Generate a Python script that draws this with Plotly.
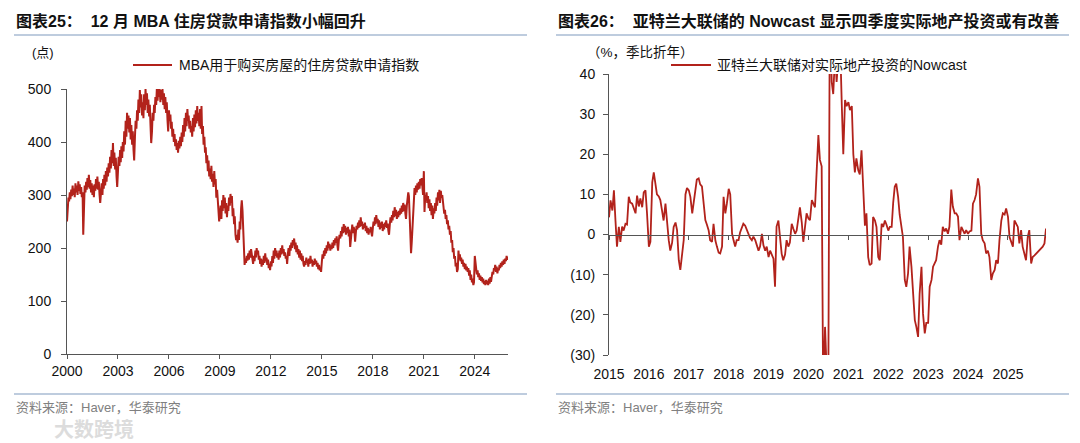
import pandas as pd
import plotly.graph_objects as go

# the page body has an 8px margin, so the figure is sized to the remaining window
OFF = 8
W, H = 1080 - OFF, 443 - OFF


def px(x):
    return (x - OFF) / W


def py(y):
    return 1 - (y - OFF) / H


# ---------------- data ----------------
# MBA purchase index, semi-monthly readings (24 per year), 2000 .. 2025
mba_values = [
    250, 272, 295, 288, 305, 292, 310, 298, 318, 300, 312, 296, 322, 305, 318, 300, 326, 308, 320, 302, 315, 296, 305, 225,  # 2000
    300, 318, 305, 325, 310, 332, 315, 338, 312, 328, 305, 322, 300, 318, 296, 320, 308, 330, 312, 335, 310, 325, 300, 285,  # 2001
    305, 322, 300, 330, 312, 338, 318, 345, 325, 352, 335, 360, 342, 372, 350, 385, 360, 398, 355, 380, 348, 370, 335, 315,  # 2002
    345, 372, 355, 385, 362, 392, 370, 400, 382, 420, 395, 440, 410, 455, 425, 450, 418, 445, 405, 432, 395, 420, 385, 365,  # 2003
    410, 440, 425, 460, 440, 480, 455, 498, 465, 490, 450, 475, 445, 490, 460, 500, 470, 492, 455, 480, 448, 470, 430, 398,  # 2004
    420, 455, 440, 470, 455, 485, 470, 500, 478, 500, 485, 500, 475, 498, 480, 500, 470, 492, 462, 485, 455, 475, 440, 420,  # 2005
    460, 440, 452, 425, 438, 410, 425, 400, 415, 392, 405, 385, 398, 380, 402, 388, 410, 392, 418, 400, 432, 410, 445, 420,  # 2006
    455, 430, 462, 440, 450, 425, 440, 418, 430, 410, 445, 420, 452, 428, 460, 435, 468, 440, 455, 430, 462, 425, 468, 415,  # 2007
    430, 395, 410, 380, 390, 360, 375, 345, 365, 335, 350, 330, 355, 325, 340, 315, 345, 320, 330, 295, 310, 280, 270, 250,  # 2008
    265, 280, 255, 290, 270, 300, 275, 295, 265, 285, 258, 280, 270, 295, 280, 302, 285, 298, 260, 275, 245, 260, 225, 215,  # 2009
    225, 210, 235, 215, 250, 235, 275, 290, 270, 230, 175, 168, 180, 172, 185, 176, 190, 178, 195, 182, 198, 185, 180, 170,  # 2010
    185, 175, 195, 182, 200, 188, 195, 178, 185, 170, 180, 165, 178, 168, 185, 172, 190, 175, 182, 168, 178, 162, 170, 158,  # 2011
    175, 165, 185, 172, 195, 180, 200, 185, 195, 182, 190, 178, 195, 182, 200, 188, 205, 190, 198, 185, 192, 180, 185, 170,  # 2012
    190, 200, 185, 205, 195, 210, 200, 215, 205, 218, 198, 210, 192, 205, 188, 198, 182, 195, 178, 190, 175, 185, 170, 165,  # 2013
    175, 168, 182, 172, 178, 165, 180, 170, 185, 172, 178, 165, 175, 168, 180, 170, 176, 165, 172, 160, 168, 158, 162, 155,  # 2014
    175, 188, 180, 195, 185, 200, 190, 205, 195, 212, 200, 208, 195, 205, 198, 210, 200, 215, 205, 218, 210, 222, 205, 195,  # 2015
    215, 225, 218, 232, 222, 240, 228, 245, 230, 242, 225, 238, 228, 240, 222, 235, 202, 222, 232, 244, 228, 240, 232, 212,  # 2016
    230, 242, 235, 248, 238, 252, 240, 258, 242, 250, 235, 245, 238, 248, 232, 242, 228, 238, 225, 235, 230, 240, 228, 222,  # 2017
    238, 250, 242, 258, 245, 262, 248, 255, 240, 252, 235, 248, 238, 250, 232, 245, 235, 248, 240, 252, 238, 246, 232, 225,  # 2018
    245, 258, 248, 262, 252, 270, 258, 277, 260, 272, 255, 268, 258, 270, 262, 275, 265, 280, 268, 285, 270, 282, 265, 255,  # 2019
    280, 292, 305, 298, 255, 215, 190, 210, 240, 268, 295, 313, 300, 318, 305, 322, 310, 325, 312, 330, 318, 332, 315, 300,  # 2020
    345, 268, 300, 290, 305, 285, 298, 275, 292, 270, 285, 262, 280, 255, 275, 265, 285, 270, 295, 280, 305, 290, 310, 285,  # 2021
    308, 295, 300, 285, 280, 265, 272, 255, 262, 245, 252, 235, 242, 225, 232, 210, 215, 192, 200, 180, 185, 165, 172, 155,  # 2022
    160, 195, 178, 188, 175, 182, 170, 178, 165, 172, 160, 170, 158, 165, 155, 162, 148, 158, 140, 150, 135, 142, 130, 135,  # 2023
    185, 165, 160, 150, 158, 145, 152, 140, 148, 138, 145, 135, 142, 132, 138, 130, 140, 132, 138, 130, 142, 133, 145, 136,  # 2024
    145, 155, 150, 162, 158, 168, 155, 165, 152, 160, 158, 168, 162, 172, 165, 175, 168, 178, 170, 180, 175, 185, 178, 183,  # 2025
]

# Atlanta Fed nowcast of real residential investment (% q/q saar), semi-monthly, 2015 .. 2025
nowcast_values = [
    4.3, 8.5, 6, 11, 3.6, -3, 1.9, -1.8, 2, 1, 2.7, 2.5, 9.4, 8, 7.7, 6.5, 5.3, 9.7, 7, 9, 6.8, 10.5, 11, 5.3,  # 2015
    -3, -1.8, 13, 15.5, 12.7, 10, 9.5, 8.6, 5.9, 3.5, 7.7, 2.7, -1.4, -4, -2, 1.9, 3, 1.1, -6.4, -8.8, -4.7, -1.4, 10, 11.6,  # 2016
    11, 9.4, 5.3, 8, 10, 13.7, 14, 12.5, 12, 8.6, 3.6, 2.5, 1.1, -1.4, -1.8, 2.7, -1.5, -3, -4.5, -4.7, -3, 9.4, 5.3, 7.7,  # 2017
    11.4, 10, 0.2, -1.5, -3, -1.4, -1.4, 0.5, 1.9, 2.7, 2.2, 1.1, 0, -0.8, -1.4, -0.5, -1.4, -2.5, -4, -3, 0.2, -2.7, -4, -3,  # 2018
    -5.6, -4, -5, -6, -13, 2, 3.5, -1, -4.8, -6.4, -5, -1.4, -3, -2, 2.7, 1.5, 0.2, 1, 4.5, 6.8, 3, -1.8, 2, 5.3,  # 2019
    4, 3.6, 8.6, 7.5, 6.8, 15, 24.8, 18.6, 17, -40, -23, -33, -38, 60, 38, 35, 45, 38, 45, 50, 32.6, 20, 33.5, 32,  # 2020
    33, 31, 32, 20, 15.5, 19, 16, 15, 21, 10.6, 2.2, 5.3, -5.6, -7.6, -7.2, 4.4, 3.5, 1.9, -5.6, -6.4, 2.7, 1.9, 3.5, 2.5,  # 2021
    1, 1.9, 1.9, 8, 11.9, 12.7, 9.4, 5, 1.9, -0.6, -11.3, -13, -9.7, -3, -8, -13, -21.3, -23, -25.5, -14.7, -8, -19.7, -24.6, -22,  # 2022
    -22, -13, -11.3, -8, -7, -6.4, -3, -1.4, -2.5, 1.9, 0.8, 1.5, 0.2, 2, 11.2, 7, 5.3, 5.3, 4.5, -1.4, 1.9, 1.1, 0.2, 1.1,  # 2023
    0.2, 0.8, 1, 7.7, 8.6, 10, 14, 11.9, 0.2, -1.4, -2.2, -4.7, -4, -5.6, -11.3, -9.7, -8.8, -6.4, -7.2, -1.4, 3.5, 5.3, 5, 6.5,  # 2024
    4.4, -0.6, -2, -3, 3.5, 2.7, 1.9, -2.2, 1.1, -3, -5, -6.4, -0.6, 1.1, -7.2, -5.6, -5.2, -4.8, -4.5, -4, -3.5, -3, -2.2, 1.5,  # 2025
]

mba_dates = pd.date_range("2000-01-01", periods=len(mba_values), freq="SMS")
nowcast_dates = pd.date_range("2015-01-01", periods=len(nowcast_values), freq="SMS")

left_tick_labels = ["2000", "2003", "2006", "2009", "2012", "2015", "2018", "2021", "2024"]
left_y_ticks = [0, 100, 200, 300, 400, 500]
right_tick_labels = ["2015", "2016", "2017", "2018", "2019", "2020", "2021", "2022", "2023", "2024", "2025"]
right_y_ticks = [40, 30, 20, 10, 0, -10, -20, -30]
right_y_text = ["40", "30", "20", "10", "0", "(10)", "(20)", "(30)"]

left_title = "<b>图表25：  12 月 MBA 住房贷款申请指数小幅回升</b>"
right_title = "<b>图表26：  亚特兰大联储的 Nowcast 显示四季度实际地产投资或有改善</b>"
left_legend = "MBA用于购买房屋的住房贷款申请指数"
right_legend = "亚特兰大联储对实际地产投资的Nowcast"
left_unit = "(点)"
right_unit = "（%，季比折年）"
source_text = "资料来源：Haver，华泰研究"

# ---------------- style ----------------
RED = "#B2221B"
AX = "#555555"
RULE = "#A9BBD3"
FONT = "Liberation Sans, Noto Sans CJK SC, sans-serif"

fig = go.Figure()
fig.add_trace(go.Scatter(x=mba_dates, y=mba_values, mode="lines",
                         line=dict(color=RED, width=2), xaxis="x", yaxis="y",
                         showlegend=False, hoverinfo="skip"))
fig.add_trace(go.Scatter(x=nowcast_dates, y=nowcast_values, mode="lines",
                         line=dict(color=RED, width=1.8), xaxis="x2", yaxis="y2",
                         showlegend=False, hoverinfo="skip"))
# carrier for the zero-line axis with ticks
fig.add_trace(go.Scatter(x=[nowcast_dates[0]], y=[nowcast_values[0]], mode="markers",
                         marker=dict(opacity=0), xaxis="x3", yaxis="y2",
                         showlegend=False, hoverinfo="skip"))

tickfont = dict(family=FONT, size=14, color="#111111")

left_dom_x = [px(67), px(508)]
left_dom_y = [py(354), py(89)]
right_dom_x = [px(609), px(1046)]
right_dom_y = [py(355), py(74)]
rmin, rmax = -30, 40
zero_pos = right_dom_y[0] + (0 - rmin) / (rmax - rmin) * (right_dom_y[1] - right_dom_y[0])

left_tickvals = [f"{t}-01-01" for t in left_tick_labels]
right_tickvals = [f"{t}-01-01" for t in right_tick_labels]
x_end = str(mba_dates[-1].date())
r_end = str(nowcast_dates[-1].date())

fig.update_layout(
    template="none",
    width=W, height=H,
    margin=dict(l=0, r=0, t=0, b=0, pad=0),
    paper_bgcolor="white", plot_bgcolor="white",
    font=dict(family=FONT),
    showlegend=False,
    xaxis=dict(domain=left_dom_x, anchor="y", type="date", automargin=False,
               range=["2000-01-01", x_end],
               tickmode="array", tickvals=left_tickvals, ticktext=left_tick_labels,
               ticks="outside", ticklen=4, tickcolor=AX, tickwidth=1,
               showline=True, linecolor=AX, linewidth=1,
               showgrid=False, zeroline=False, tickfont=tickfont),
    yaxis=dict(domain=left_dom_y, anchor="x", range=[0, 500], automargin=False,
               tickmode="array", tickvals=left_y_ticks,
               ticks="outside", ticklen=5, tickcolor=AX, tickwidth=1,
               ticklabelstandoff=7,
               showline=True, linecolor=AX, linewidth=1,
               showgrid=False, zeroline=False, tickfont=tickfont),
    xaxis2=dict(domain=right_dom_x, anchor="y2", type="date", automargin=False,
                range=["2015-01-01", r_end],
                tickmode="array", tickvals=right_tickvals, ticktext=right_tick_labels,
                ticks="outside", ticklen=4, tickcolor="rgba(0,0,0,0)",
                ticklabelstandoff=2,
                showline=False, showgrid=False, zeroline=False,
                tickfont=tickfont),
    yaxis2=dict(domain=right_dom_y, anchor="x2", range=[rmin, rmax], automargin=False,
                tickmode="array", tickvals=right_y_ticks, ticktext=right_y_text,
                ticks="outside", ticklen=5, tickcolor=AX, tickwidth=1,
                ticklabelstandoff=5,
                showline=True, linecolor=AX, linewidth=1,
                showgrid=False, zeroline=False, tickfont=tickfont),
    xaxis3=dict(overlaying="x2", anchor="free", position=zero_pos, side="bottom",
                type="date", range=["2015-01-01", r_end], automargin=False,
                tickmode="array", tickvals=right_tickvals, showticklabels=False,
                ticks="outside", ticklen=4, tickcolor=AX, tickwidth=1,
                showline=True, linecolor=AX, linewidth=1,
                showgrid=False, zeroline=False),
)

shapes = []
# rules under titles and above sources
for x0, x1 in [(14, 527), (556, 1069)]:
    shapes.append(dict(type="line", xref="paper", yref="paper",
                       x0=px(x0), x1=px(x1), y0=py(35), y1=py(35),
                       line=dict(color=RULE, width=1.5)))
    shapes.append(dict(type="line", xref="paper", yref="paper",
                       x0=px(x0), x1=px(x1), y0=py(394), y1=py(394),
                       line=dict(color=RULE, width=1.5)))
# legend samples
for x0, x1 in [(133, 172), (671, 711)]:
    shapes.append(dict(type="line", xref="paper", yref="paper",
                       x0=px(x0), x1=px(x1), y0=py(65), y1=py(65),
                       line=dict(color=RED, width=2.2)))
fig.update_layout(shapes=shapes)

annotations = [
    dict(text=left_title, x=px(14), y=py(21), xanchor="left", yanchor="middle",
         font=dict(size=16, color="#111111", family=FONT)),
    dict(text=right_title, x=px(556), y=py(21), xanchor="left", yanchor="middle",
         font=dict(size=16, color="#111111", family=FONT)),
    dict(text=left_unit, x=px(43), y=py(52), xanchor="center", yanchor="middle",
         font=dict(size=13, color="#111111", family=FONT)),
    dict(text=right_unit, x=px(640), y=py(53), xanchor="center", yanchor="middle",
         font=dict(size=13.5, color="#111111", family=FONT)),
    dict(text=left_legend, x=px(177), y=py(65), xanchor="left", yanchor="middle",
         font=dict(size=14, color="#111111", family=FONT)),
    dict(text=right_legend, x=px(715), y=py(65), xanchor="left", yanchor="middle",
         font=dict(size=14, color="#111111", family=FONT)),
    dict(text=source_text, x=px(14), y=py(407), xanchor="left", yanchor="middle",
         font=dict(size=13, color="#808080", family=FONT)),
    dict(text=source_text, x=px(556), y=py(407), xanchor="left", yanchor="middle",
         font=dict(size=13, color="#808080", family=FONT)),
    dict(text="<b>大数跨境</b>", x=px(52), y=py(428), xanchor="left", yanchor="middle",
         font=dict(size=20, color="#DCDCDC", family="Noto Sans CJK SC")),
]
for a in annotations:
    a.update(xref="paper", yref="paper", showarrow=False)
fig.update_layout(annotations=annotations)

fig.write_html("out.html")
